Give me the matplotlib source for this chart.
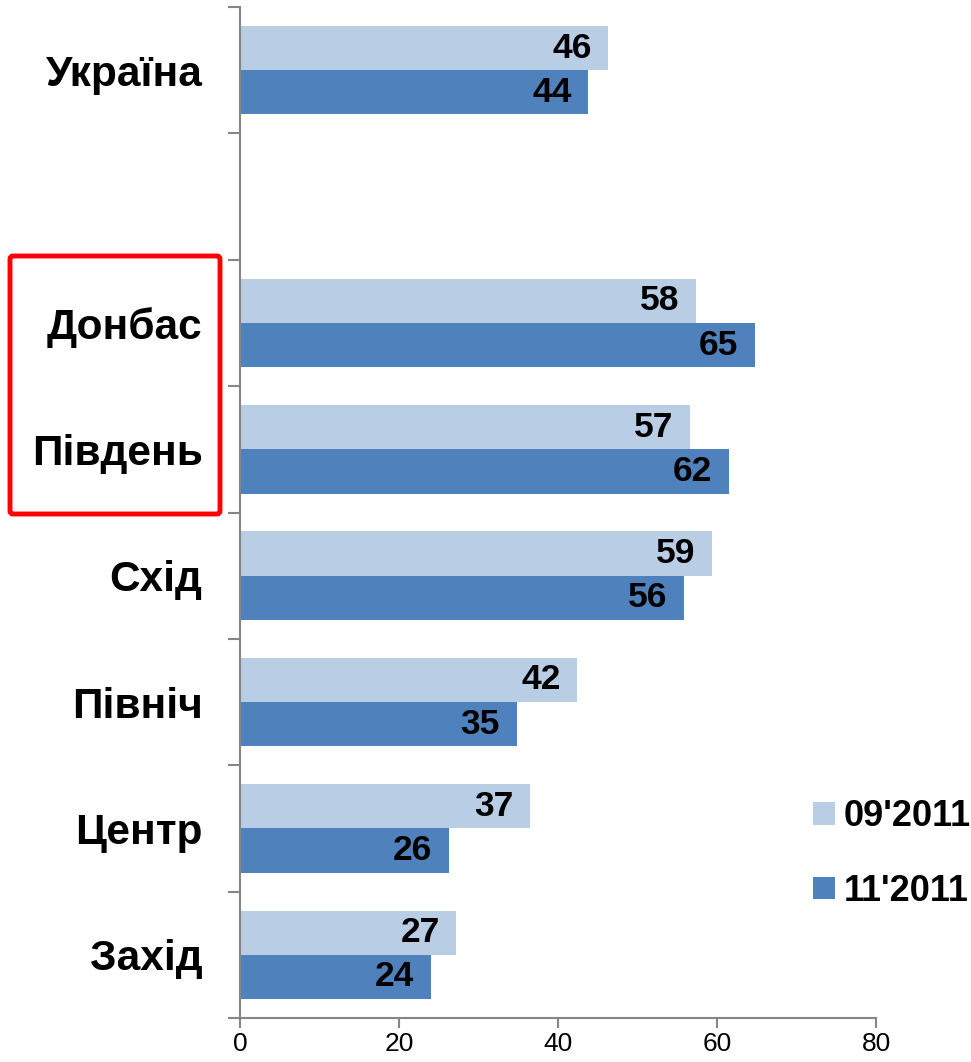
import numpy as np
import matplotlib.pyplot as plt
from matplotlib.patches import FancyBboxPatch

plt.rcParams['font.family'] = ['Liberation Sans', 'DejaVu Sans']

# категорії зверху вниз ('' - порожній рядок між Україною та регіонами)
categories = ['Україна', '', 'Донбас', 'Південь', 'Схід', 'Північ', 'Центр', 'Захід']
vals_sep = [46.3, None, 57.4, 56.6, 59.4, 42.4, 36.5, 27.2]
vals_nov = [43.8, None, 64.8, 61.5, 55.8, 34.8, 26.3, 24.0]
labels_sep = [46, None, 58, 57, 59, 42, 37, 27]
labels_nov = [44, None, 65, 62, 56, 35, 26, 24]
series = ["09'2011", "11'2011"]
xticks = [0, 20, 40, 60, 80]

c_light = '#B9CDE5'
c_dark = '#4F81BD'
grey = '#868686'

fig = plt.figure(figsize=(9.71, 10.62), dpi=100)
ax = fig.add_axes([240 / 971, 1 - 1018 / 1062, (876 - 240) / 971, (1018 - 7) / 1062])

h = 0.35
pos = np.arange(len(categories))
for i in pos:
    if vals_sep[i] is None:
        continue
    ax.barh(i - h / 2, vals_sep[i], height=h, color=c_light,
            label=series[0] if i == 0 else None)
    ax.barh(i + h / 2, vals_nov[i], height=h, color=c_dark,
            label=series[1] if i == 0 else None)
    ax.text(vals_sep[i] - 2.1, i - h / 2, str(labels_sep[i]), ha='right', va='center',
            fontsize=25.5, fontweight='bold')
    ax.text(vals_nov[i] - 2.1, i + h / 2, str(labels_nov[i]), ha='right', va='center',
            fontsize=25.5, fontweight='bold')

ax.set_ylim(len(categories) - 0.5, -0.5)
ax.set_xlim(0, 80)
ax.set_yticks(pos)
ax.set_yticklabels(categories, fontsize=30.5, fontweight='bold')
ax.set_yticks(np.arange(len(categories) + 1) - 0.5, minor=True)
ax.tick_params(axis='y', which='major', length=0, pad=27)
ax.tick_params(axis='y', which='minor', length=9, width=1.5, color=grey, direction='out')
ax.set_xticks(xticks)
ax.tick_params(axis='x', length=7, width=1.5, color=grey, labelsize=19, pad=3)

for s in ['top', 'right']:
    ax.spines[s].set_visible(False)
for s in ['left', 'bottom']:
    ax.spines[s].set_color(grey)
    ax.spines[s].set_linewidth(1.5)

leg = fig.legend(loc='upper left', bbox_to_anchor=(813 / 971, 1 - 799 / 1062),
                 frameon=False, prop={'weight': 'bold', 'size': 26},
                 handlelength=0.6, handleheight=0.6, handletextpad=0.25,
                 labelspacing=1.1, borderpad=0, borderaxespad=0)

# червона рамка навколо Донбасу та Півдня
box = FancyBboxPatch((10 / 971, 1 - 514 / 1062), 210 / 971, 258 / 1062,
                     boxstyle='round,pad=0,rounding_size=0.003',
                     transform=fig.transFigure, fill=False, edgecolor='#FF0000',
                     linewidth=3.5)
fig.patches.append(box)

fig.savefig('out.png', dpi=100)
